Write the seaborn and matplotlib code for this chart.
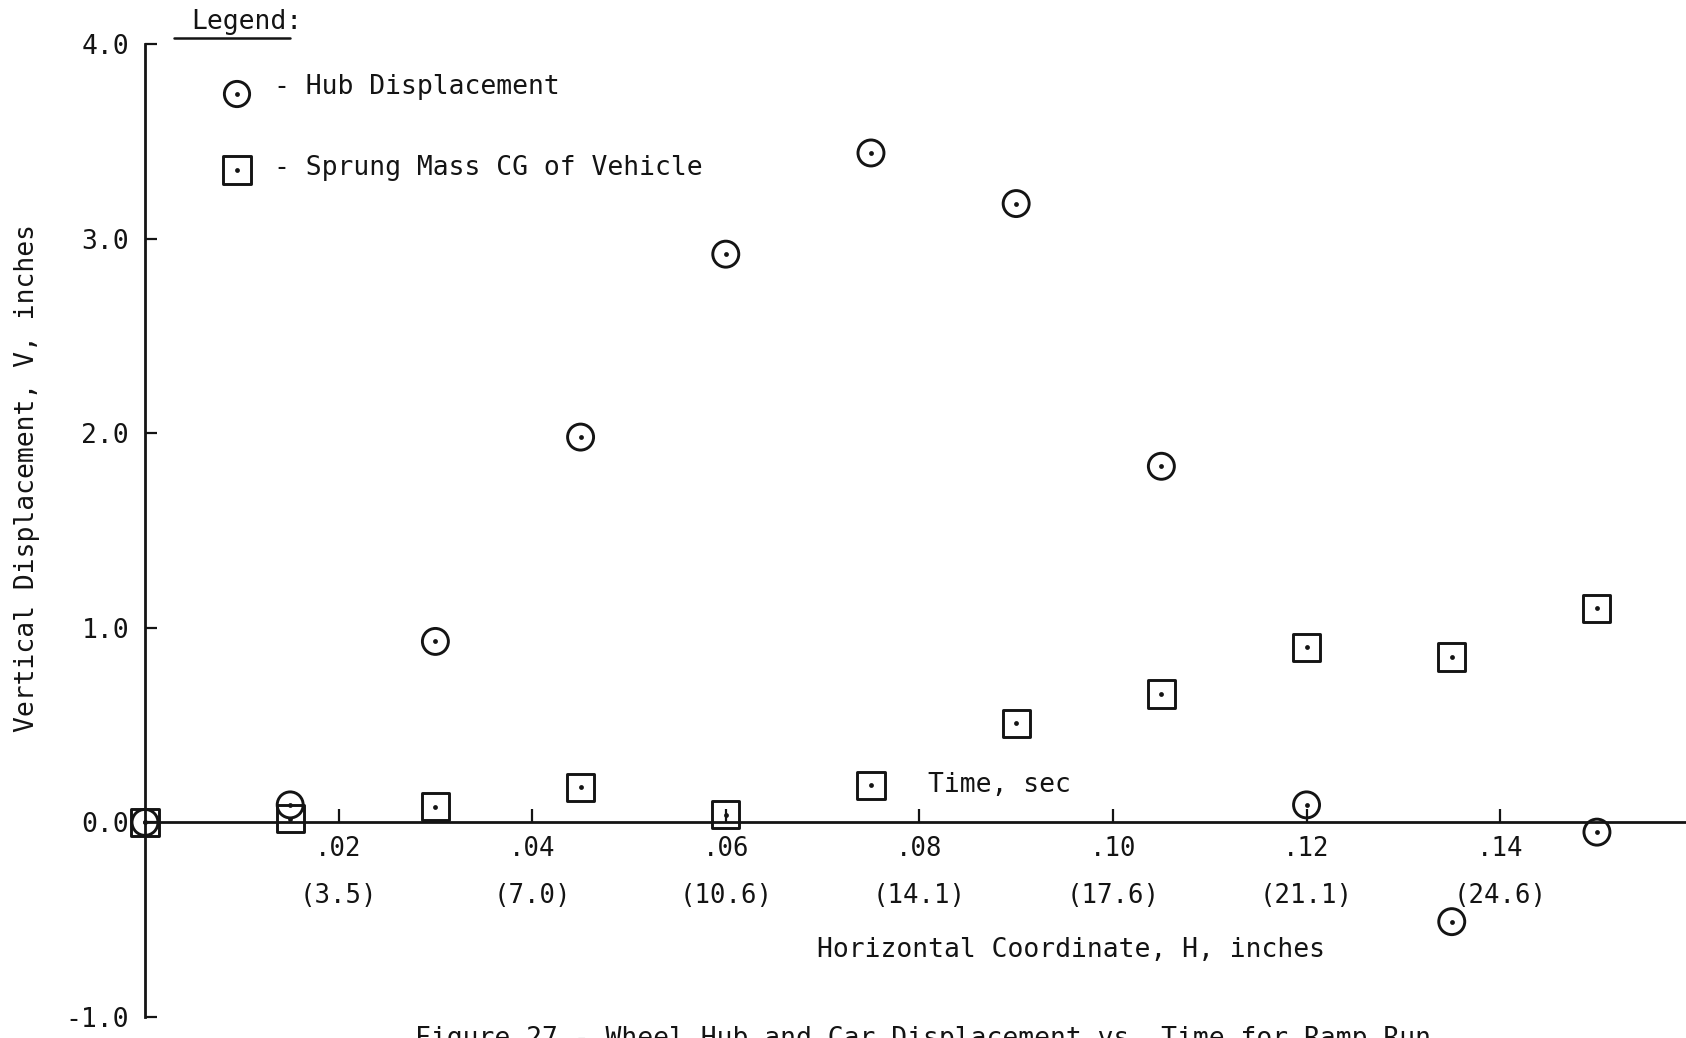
import matplotlib
matplotlib.use("Agg")
import matplotlib.pyplot as plt
import seaborn as sns
import pandas as pd

# Elapsed time of each sample, seconds
time_s = [0.0, 0.015, 0.03, 0.045, 0.06, 0.075, 0.09, 0.105, 0.12, 0.135, 0.15]
# Vertical displacement of the wheel hub, inches
hub_disp = [0.0, 0.09, 0.93, 1.98, 2.92, 3.44, 3.18, 1.83, 0.09, -0.51, -0.05]
# Vertical displacement of the sprung-mass CG, inches
sprung_disp = [0.0, 0.02, 0.08, 0.18, 0.04, 0.19, 0.51, 0.66, 0.90, 0.85, 1.10]

# Axis ticks: time in seconds with the matching horizontal coordinate in inches
time_ticks = [0.02, 0.04, 0.06, 0.08, 0.10, 0.12, 0.14]
time_labels = [".02", ".04", ".06", ".08", ".10", ".12", ".14"]
horiz_labels = ["(3.5)", "(7.0)", "(10.6)", "(14.1)", "(17.6)", "(21.1)", "(24.6)"]
v_ticks = [-1.0, 0.0, 1.0, 2.0, 3.0, 4.0]
v_labels = ["-1.0", "0.0", "1.0", "2.0", "3.0", "4.0"]

hub_df = pd.DataFrame({"time": time_s, "disp": hub_disp})
sprung_df = pd.DataFrame({"time": time_s, "disp": sprung_disp})

sns.set_style("white")
plt.rcParams["font.family"] = ["DejaVu Sans Mono"]
INK = "#141414"
FS = 19

W, H = 1686, 1038
fig = plt.figure(figsize=(W / 100, H / 100), dpi=100, facecolor="white")
ax = fig.add_axes([145 / W, 21 / H, 1541 / W, 973 / H])
ax.set_facecolor("white")

# Hub: open circles with a centre dot
sns.scatterplot(data=hub_df, x="time", y="disp", ax=ax, marker="o", s=350,
                facecolor="none", edgecolor=INK, linewidth=2.1, clip_on=False,
                legend=False, zorder=3)
# Sprung mass: open squares with a centre dot
sns.scatterplot(data=sprung_df, x="time", y="disp", ax=ax, marker="s", s=380,
                facecolor="none", edgecolor=INK, linewidth=2.1, clip_on=False,
                legend=False, zorder=3)
for df in (hub_df, sprung_df):
    sns.scatterplot(data=df, x="time", y="disp", ax=ax, marker="o", s=12,
                    color=INK, edgecolor=INK, linewidth=0, clip_on=False,
                    legend=False, zorder=4)

ax.set_xlim(0, 0.1592)
ax.set_ylim(-1.0, 4.0)

for side in ("top", "right"):
    ax.spines[side].set_visible(False)
ax.spines["left"].set_position(("data", 0))
ax.spines["bottom"].set_position(("data", 0))
for side in ("left", "bottom"):
    ax.spines[side].set_color(INK)
    ax.spines[side].set_linewidth(2.0)

ax.set_xticks(time_ticks)
ax.set_xticklabels([f"{t}\n{h}" for t, h in zip(time_labels, horiz_labels)],
                   fontsize=18.5, color=INK)
for lbl in ax.get_xticklabels():
    lbl.set_linespacing(2.05)
    lbl.set_multialignment("center")
ax.set_yticks(v_ticks)
ax.set_yticklabels(v_labels, fontsize=FS, color=INK)

ax.tick_params(axis="x", direction="in", length=9.5, width=1.6, color=INK, pad=10,
               bottom=True)
ax.tick_params(axis="y", direction="in", length=8.5, width=1.6, color=INK, pad=11.5,
               left=True)

ax.set_xlabel("Horizontal Coordinate, H, inches", fontsize=FS, color=INK,
              va="center", ha="center")
ax.xaxis.set_label_coords(0.601, 0.069)
ax.set_ylabel("Vertical Displacement, V, inches", fontsize=FS, color=INK,
              va="center", ha="center")
ax.yaxis.set_label_coords(-0.0766, 0.554)

# Time-axis caption next to the axis line
ax.text(0.0809, 0.192, "Time, sec", fontsize=FS, color=INK, ha="left", va="center")

# Legend block
ax.text(0.0299, 1.0226, "Legend:", transform=ax.transAxes, fontsize=FS, color=INK,
        ha="left", va="center")
ax.plot([0.0188, 0.0941], [1.0062, 1.0062], transform=ax.transAxes, color=INK,
        lw=1.8, clip_on=False)
ax.scatter([0.0597], [0.9486], transform=ax.transAxes, marker="o", s=330,
           facecolor="none", edgecolor=INK, linewidth=2.1, clip_on=False)
ax.scatter([0.0597], [0.8705], transform=ax.transAxes, marker="s", s=380,
           facecolor="none", edgecolor=INK, linewidth=2.1, clip_on=False)
ax.scatter([0.0597, 0.0597], [0.9486, 0.8705], transform=ax.transAxes, marker="o",
           s=12, color=INK, linewidth=0, clip_on=False)
ax.text(0.0837, 0.9558, "- Hub Displacement", transform=ax.transAxes, fontsize=FS,
        color=INK, ha="left", va="center")
ax.text(0.0837, 0.8726, "- Sprung Mass CG of Vehicle", transform=ax.transAxes,
        fontsize=FS, color=INK, ha="left", va="center")

# Figure caption running off the bottom edge
fig.text(415 / W, 1 - 1026 / H,
         "Figure 27 - Wheel Hub and Car Displacement vs. Time for Ramp Run",
         fontsize=FS, color=INK, ha="left", va="top")

fig.savefig("out.png", dpi=100, facecolor="white")
